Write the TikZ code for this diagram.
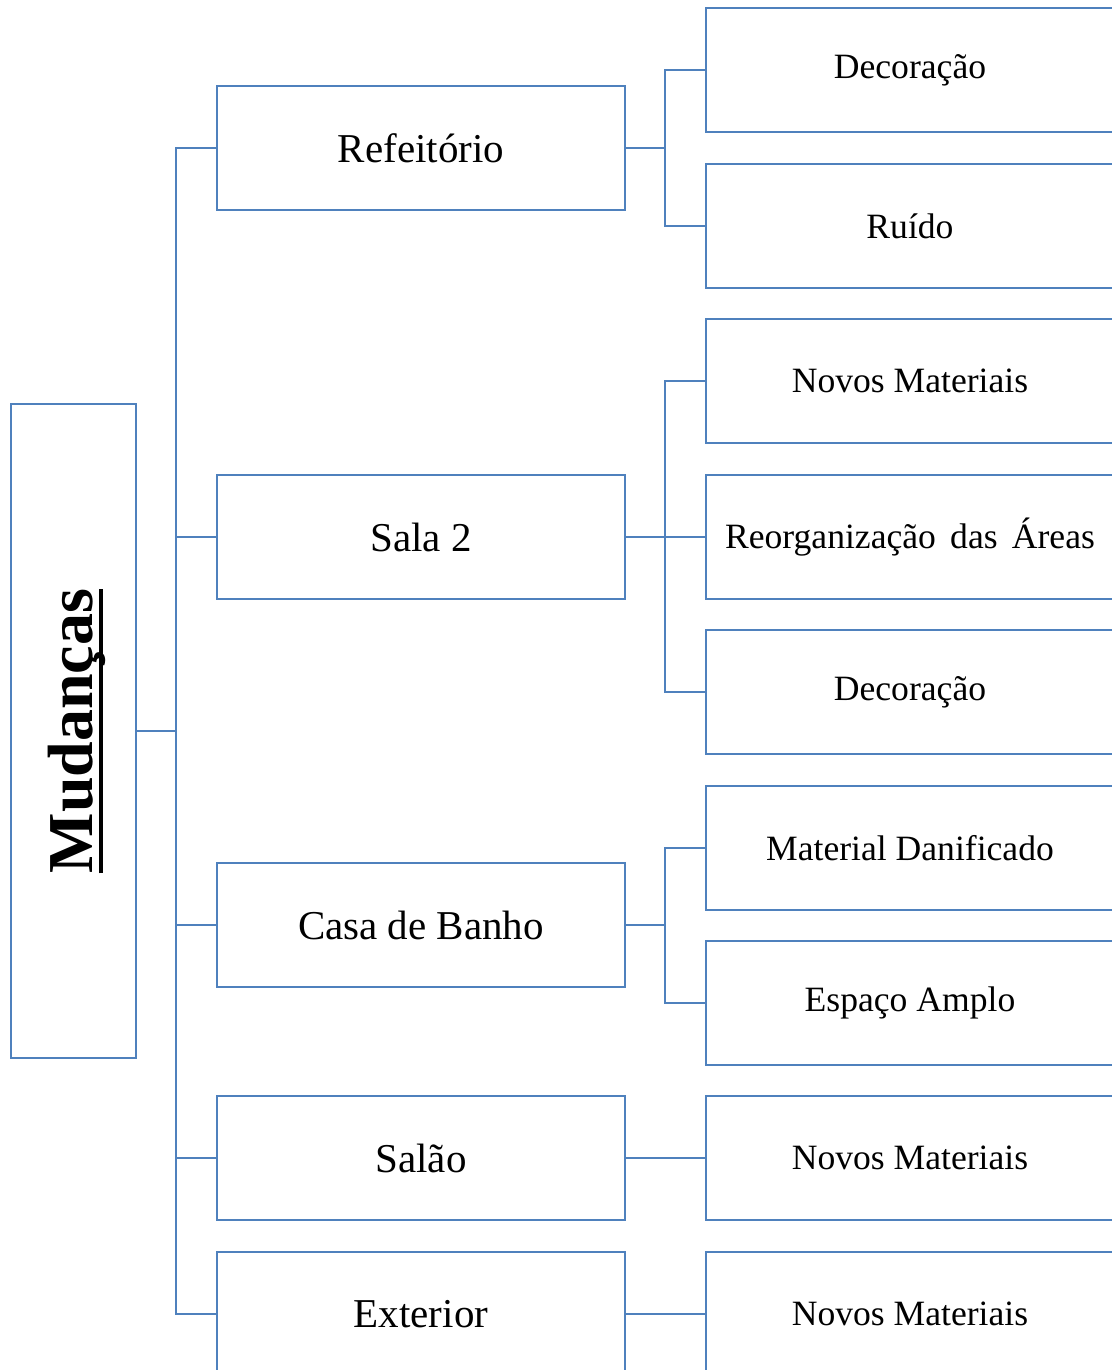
\documentclass[tikz,border=0pt]{standalone}
\usepackage{fontspec}
\setmainfont{Liberation Serif}
\definecolor{lineblue}{HTML}{4F81BD}
\newcommand\thickul[1]{\setbox0=\hbox{#1}\rlap{\rule[-0.17em]{\wd0}{0.055em}}\box0}
\tikzset{
  boxbase/.style={draw=lineblue, line width=1.15pt, inner sep=0pt, fill=white},
  lvlone/.style={boxbase, minimum width=204pt, minimum height=62pt, font=\fontsize{20.5}{24}\selectfont},
  lvltwo/.style={boxbase, minimum width=204pt, minimum height=62pt, font=\fontsize{17.8}{21}\selectfont},
  conn/.style={draw=lineblue, line width=1.15pt}
}
\begin{document}
\begin{tikzpicture}[x=0.5pt,y=-0.5pt]
\useasboundingbox (0,0) rectangle (1112,1370);
\clip (0,0) rectangle (1112,1370);
% root
\node[boxbase, minimum width=62.5pt, minimum height=327pt] (root) at (73.5,731)
  {\hspace{3pt}\rotatebox{90}{\fontsize{32}{36}\selectfont\bfseries\thickul{Mudanças}}};
% level 1
\node[lvlone] (ref) at (421,148) {Refeitório};
\node[lvlone] (sala) at (421,537) {Sala 2};
\node[lvlone] (casa) at (421,925) {Casa de Banho};
\node[lvlone] (salao) at (421,1158) {Salão};
\node[lvlone] (ext) at (421,1314) {Exterior};
% level 2
\node[lvltwo] (r1) at (910,70) {Decoração};
\node[lvltwo] (r2) at (910,226) {Ruído};
\node[lvltwo] (s1) at (910,381) {Novos Materiais};
\node[lvltwo] (s2) at (910,537) {Reorganização\hspace{0.4em}das\hspace{0.4em}Áreas};
\node[lvltwo] (s3) at (910,692) {Decoração};
\node[lvltwo] (c1) at (910,848) {Material Danificado};
\node[lvltwo] (c2) at (910,1003) {Espaço Amplo};
\node[lvltwo] (sa1) at (910,1158) {Novos Materiais};
\node[lvltwo] (e1) at (910,1314) {Novos Materiais};
% connectors
\coordinate (trunk) at (176,731);
\draw[conn] (root.east) -- (trunk);
\draw[conn] (trunk) |- (ref.west);
\draw[conn] (trunk) |- (sala.west);
\draw[conn] (trunk) |- (casa.west);
\draw[conn] (trunk) |- (salao.west);
\draw[conn] (trunk) |- (ext.west);
\coordinate (bref) at (665,148);
\draw[conn] (ref.east) -- (bref);
\draw[conn] (bref) |- (r1.west);
\draw[conn] (bref) |- (r2.west);
\coordinate (bsala) at (665,537);
\draw[conn] (sala.east) -- (s2.west);
\draw[conn] (bsala) |- (s1.west);
\draw[conn] (bsala) |- (s3.west);
\coordinate (bcasa) at (665,925);
\draw[conn] (casa.east) -- (bcasa);
\draw[conn] (bcasa) |- (c1.west);
\draw[conn] (bcasa) |- (c2.west);
\draw[conn] (salao.east) -- (sa1.west);
\draw[conn] (ext.east) -- (e1.west);
\end{tikzpicture}
\end{document}
